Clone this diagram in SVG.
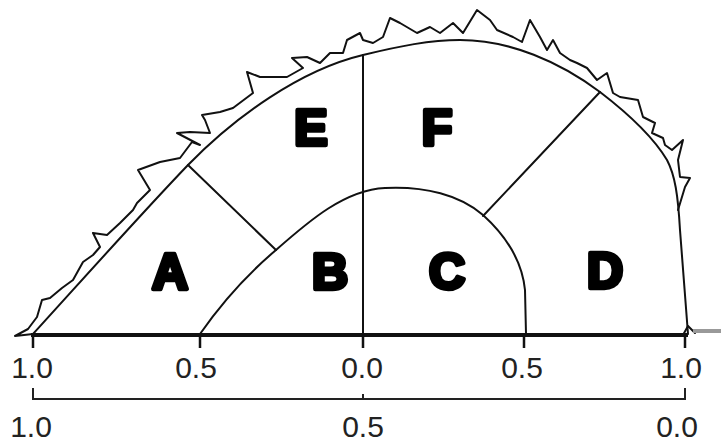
<svg xmlns="http://www.w3.org/2000/svg" width="721" height="443" viewBox="0 0 721 443">
<style>
.ln{fill:none;stroke:#111;stroke-width:2;stroke-linejoin:round;stroke-linecap:round}
.jag{fill:none;stroke:#111;stroke-width:2;stroke-linejoin:round;stroke-linecap:round}
.axis{fill:none;stroke:#111;stroke-width:4}
.tick{fill:none;stroke:#111;stroke-width:2.5}
.brk{fill:none;stroke:#222;stroke-width:2}
.lbl{font-family:"Liberation Sans",Arial,sans-serif;font-size:30px;fill:#222;text-anchor:middle}
.big{font-family:"Liberation Sans",Arial,sans-serif;font-weight:bold;font-size:50px;fill:#000;stroke:#000;stroke-width:4.5;stroke-linejoin:round;text-anchor:middle}
</style>
<rect width="721" height="443" fill="#fff"/>
<g id="jagged-edge">
<path class="jag" d="M33,334 L15,336 L28,329 L37,317 L42,300 L50,298 L62,288 L73,280 L83,262 L93,255 L100,247 L93,233 L107,235 L120,223 L133,210 L137,203 L150,190 L138,170 L160,162 L180,158 L192,142 L200,145 L177,133 L190,132 L210,133 L205,120 L202,115 L220,112 L233,108 L253,93 L247,72 L260,77 L287,77 L303,68 L292,58 L307,57 L320,63 L330,53 L343,53 L347,40 L360,33 L363,40 L373,43 L383,37 L390,18 L400,23 L417,33 L430,27 L440,33 L453,23 L463,33 L477,10 L490,20 L497,30 L513,37 L522,42 L530,20 L540,37 L547,50 L553,40 L560,53 L570,60 L577,63 L587,68 L597,80 L607,73 L613,93 L620,97 L638,100 L643,117 L655,123 L652,133 L663,138 L665,145 L672,150 L683,140 L678,160 L680,177 L690,178 L685,187 L678,210"/>
<path class="jag" d="M688,326 L683,335 M688,326 L695,333"/>
</g>
<g id="outline">
<path class="ln" d="M33,334 C75,288 140,215 188,165 C235,117 300,70 363,55 C400,46 430,40 460,40 C510,40 560,62 600,92 C630,115 655,140 667,160 C675,175 678,195 680,230 C683,270 686,310 688,334"/>
</g>
<g id="connectors">
<path id="inner" class="ln" d="M200,334 C225,298 250,272 276,250 C310,220 345,190 385,188 C425,186 460,195 483,215 C505,235 522,260 525,290 L526,334"/>
<line id="div-AE" class="ln" x1="188" y1="165" x2="276" y2="250"/>
<line id="div-FD" class="ln" x1="600" y1="92" x2="483" y2="216"/>
<line id="center" class="ln" x1="363" y1="55" x2="363" y2="334"/>
</g>
<g id="axis">
<line x1="693" y1="331" x2="721" y2="331" stroke="#999" stroke-width="4"/>
<line class="axis" x1="31" y1="335" x2="688" y2="335"/>
<path class="tick" d="M33,335 V348 M200,335 V348 M363,335 V348 M524,335 V348 M685,335 V348"/>
<path class="brk" d="M33,388 V399 H685 V388 M363,394 V399"/>
<text class="lbl" x="32" y="378">1.0</text>
<text class="lbl" x="196" y="378">0.5</text>
<text class="lbl" x="362" y="378">0.0</text>
<text class="lbl" x="522" y="378">0.5</text>
<text class="lbl" x="681" y="378">1.0</text>
<text class="lbl" x="31" y="437">1.0</text>
<text class="lbl" x="363" y="437">0.5</text>
<text class="lbl" x="677" y="437">0.0</text>
</g>
<g id="A"><text class="big" x="170" y="289">A</text></g>
<g id="B"><text class="big" x="330" y="289">B</text></g>
<g id="C"><text class="big" x="447" y="289">C</text></g>
<g id="D"><text class="big" x="605" y="288">D</text></g>
<g id="E"><text class="big" x="311" y="145">E</text></g>
<g id="F"><text class="big" x="437" y="145">F</text></g>
</svg>
